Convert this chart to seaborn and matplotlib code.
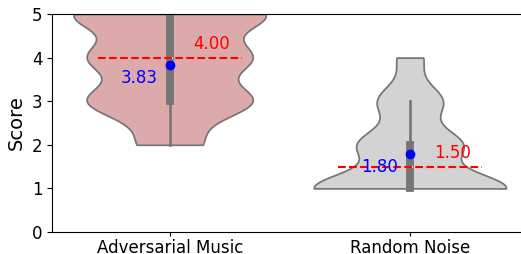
import pandas as pd
import matplotlib
matplotlib.use('Agg')
import matplotlib.pyplot as plt
import seaborn as sns
import numpy as np

# Score values and how many ratings got each score
scores = [1, 2, 3, 4, 5]
adversarial_counts = [0, 13, 34, 33, 40]
noise_counts = [60, 32, 20, 8, 0]

categories = ['Adversarial Music', 'Random Noise']
colors = ['#dcaaaa', '#d3d3d3']

rows = []
for cat, counts in zip(categories, [adversarial_counts, noise_counts]):
    for s, c in zip(scores, counts):
        rows += [{'Method': cat, 'Score': s}] * c
df = pd.DataFrame(rows)

fig = plt.figure(figsize=(5.21, 2.54), dpi=100)
ax = fig.add_axes([52 / 521, 22 / 254, 478 / 521, 218 / 254])

sns.violinplot(data=df, x='Method', y='Score', hue='Method', palette=colors,
               saturation=1, cut=0, density_norm='width', inner='box',
               legend=False, ax=ax)

# Median (red dashed) and mean (blue dot) markers with labels
for i, cat in enumerate(categories):
    vals = df.loc[df['Method'] == cat, 'Score']
    med = vals.median()
    mean = vals.mean()
    ax.hlines(med, i - 0.3, i + 0.3, colors='red', linestyles='--', linewidth=1.5, zorder=5)
    ax.plot(i, mean, 'o', color='blue', markersize=6, zorder=6)
    ax.text(i + 0.1, med + 0.1, f'{med:.2f}', color='red', fontsize=12,
            ha='left', va='bottom', zorder=7)
    ax.text(i - 0.05, mean - 0.1, f'{mean:.2f}', color='blue', fontsize=12,
            ha='right', va='top', zorder=7)

ax.set_ylim(0, 5)
ax.set_xlim(-0.49, 1.5)
ax.set_xlabel('')
ax.set_ylabel('Score', fontsize=14)
ax.tick_params(axis='both', labelsize=12)
ax.tick_params(axis='x', length=3, pad=2)

plt.savefig('out.png', dpi=100)
